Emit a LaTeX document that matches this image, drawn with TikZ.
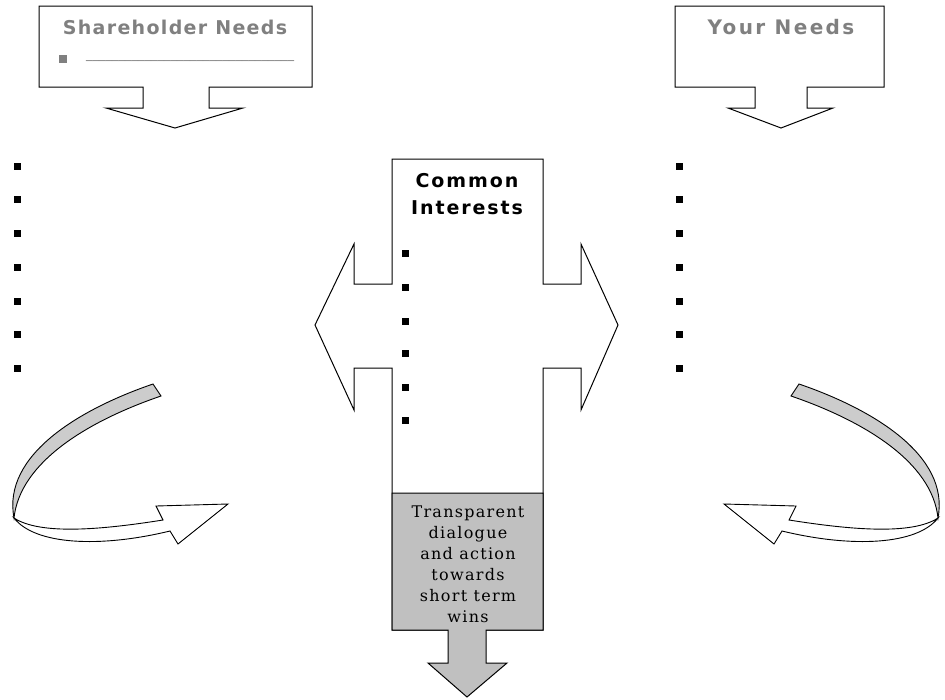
\documentclass[tikz,border=0pt]{standalone}
\usepackage{fontspec}
\newfontfamily\headfont{DejaVu Sans}[LetterSpace=7]
\newfontfamily\ynfont{DejaVu Sans}[LetterSpace=12]
\newfontfamily\midfont{DejaVu Sans}[LetterSpace=10]
\newfontfamily\bodyfont{DejaVu Serif}[LetterSpace=8]
\newfontfamily\linefont{DejaVu Sans}
\definecolor{boxgray}{RGB}{192,192,192}
\definecolor{bandgray}{RGB}{204,204,204}
\definecolor{headgray}{RGB}{128,128,128}
\begin{document}
\begin{tikzpicture}[x=1pt,y=-1pt,line join=miter,
  shapeline/.style={draw=black,line width=1pt},
  thinline/.style={draw=black,line width=0.9pt},
  bulletsq/.style={fill=black,minimum size=7pt,inner sep=0pt},
  headtext/.style={text=headgray,font=\headfont\bfseries\fontsize{19}{22}\selectfont,inner sep=0pt},
  midtext/.style={text=black,font=\midfont\bfseries\fontsize{19}{27}\selectfont,align=center,inner sep=0pt},
  bodytext/.style={text=black,font=\bodyfont\fontsize{16}{21}\selectfont,align=center,inner sep=0pt}]
\useasboundingbox (0,0) rectangle (945,699);
% Shareholder Needs callout
\draw[shapeline,fill=white] (39,6) -- (312,6) -- (312,87) -- (209,87) -- (209,108) -- (243,108) -- (175,128) -- (106,108) -- (143,108) -- (143,87) -- (39,87) -- cycle;
\node[headtext] (shn) at (175,27) {Shareholder Needs};
\fill[headgray] (59,55) rectangle (67,63);
\node[text=headgray,font=\linefont\fontsize{13}{15}\selectfont,inner sep=0pt,anchor=west] (shline) at (86,60) {\_\_\_\_\_\_\_\_\_\_\_\_\_\_\_\_\_\_\_\_\_\_\_\_\_\_\_\_\_\_\_\_};
% Your Needs callout
\draw[shapeline,fill=white] (675,6) -- (884,6) -- (884,87) -- (807,87) -- (807,108) -- (833,108) -- (781,128) -- (728,108) -- (755,108) -- (755,87) -- (675,87) -- cycle;
\node[headtext,font=\ynfont\bfseries\fontsize{20}{22}\selectfont] (yn) at (781,27) {Your Needs};
% Central cross
\draw[shapeline,fill=white] (392,159) -- (543,159) -- (543,284) -- (581,284) -- (581,244) -- (618,325) -- (581,410) -- (581,368) -- (543,368) -- (543,630) -- (392,630) -- (392,368) -- (354,368) -- (354,410) -- (315,325) -- (354,244) -- (354,284) -- (392,284) -- cycle;
\draw[shapeline,fill=boxgray] (392,493) -- (543,493) -- (543,630) -- (486,630) -- (486,663) -- (507,663) -- (467,697) -- (428,663) -- (448,663) -- (448,630) -- (392,630) -- cycle;
\node[midtext] (ci) at (467,194) {Common\\Interests};
\node[bodytext] (tr) at (468,564) {Transparent\\dialogue\\and action\\towards\\short term\\wins};
% bullets
\foreach \yy in {166,199,233,267,301,334,368} {
  \node[bulletsq] at (17,\yy) {};
  \node[bulletsq] at (679,\yy) {};
}
\foreach \yy in {253,287,321,353,387,420} {
  \node[bulletsq] at (405,\yy) {};
}
% curved arrows
\foreach \sx/\sh in {1/0,-1/952} {
\begin{scope}[xshift=\sh pt,xscale=\sx]
\draw[thinline,fill=bandgray] (153,384) .. controls (80,409) and (2,455) .. (14,518) .. controls (20,462) and (88,421) .. (161,396) -- cycle;
\draw[thinline,fill=white] (14,518) .. controls (40,535) and (100,530) .. (163,520) -- (156,506) -- (228,504) -- (178,544) -- (170,531) .. controls (100,548) and (35,545) .. (14,518) -- cycle;
\end{scope}
}
\end{tikzpicture}
\end{document}
